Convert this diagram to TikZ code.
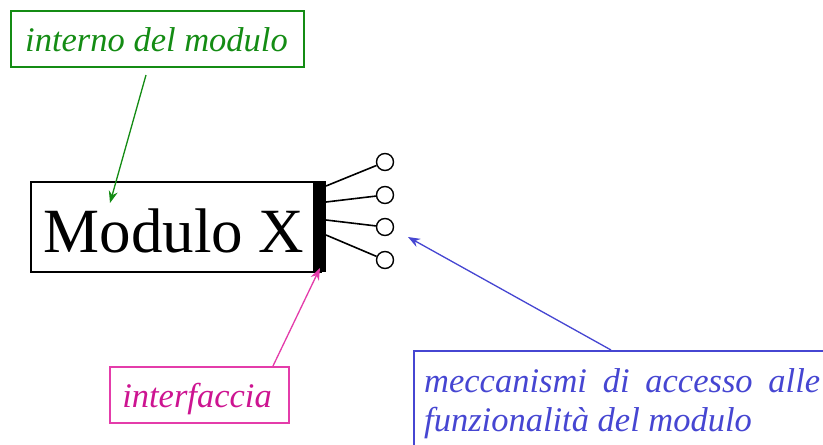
\documentclass[tikz,border=0pt]{standalone}
\usepackage{fontspec}
\setmainfont{Liberation Serif}[ItalicFont={Liberation Serif Italic}]
\usetikzlibrary{arrows.meta}
\definecolor{cgreen}{RGB}{20,140,20}
\definecolor{cpinkline}{RGB}{228,60,170}
\definecolor{cpink}{RGB}{205,20,145}
\definecolor{cblue}{RGB}{70,70,210}
\tikzset{
  lbl/.style={font=\fontsize{34.5}{40}\selectfont\itshape, inner sep=0pt},
  callout/.style={draw, line width=1.6pt, rectangle, inner sep=0pt},
  tip/.style={-{Stealth[length=12pt,width=9pt]}, line width=1.3pt},
  port/.style={draw, circle, line width=1.4pt, minimum size=17pt, inner sep=0pt, fill=white},
  wire/.style={line width=1.6pt},
}
\begin{document}
\begin{tikzpicture}[x=1pt,y=-1pt]
\clip (0,0) rectangle (823,445);
\fill[white] (0,0) rectangle (823,445);
% green callout
\node[callout, draw=cgreen, minimum width=293pt, minimum height=56pt, anchor=north west] (gbox) at (10,10) {};
\node[lbl, text=cgreen, anchor=base] (gtxt) at (156.5,51) {interno del modulo};
% main module
\node[draw, line width=1.6pt, minimum width=290pt, minimum height=90pt, anchor=north west, inner sep=0pt] (mod) at (30,181) {};
\node[inner sep=0pt, anchor=base, font=\fontsize{63}{70}\selectfont] (modt) at (174,252) {Modulo X};
\node[fill=black, minimum width=13pt, minimum height=91pt, anchor=north west, inner sep=0pt] (bar) at (313,181) {};
% ports
\node[port] (c1) at (385,162) {};
\node[port] (c2) at (385,195) {};
\node[port] (c3) at (385,227) {};
\node[port] (c4) at (385,260) {};
\coordinate (p1) at (326,186);
\coordinate (p2) at (326,202);
\coordinate (p3) at (326,220);
\coordinate (p4) at (326,235);
\draw[wire] (p1) -- (c1);
\draw[wire] (p2) -- (c2);
\draw[wire] (p3) -- (c3);
\draw[wire] (p4) -- (c4);
% pink callout
\node[callout, draw=cpinkline, minimum width=179pt, minimum height=56pt, anchor=north west] (pbox) at (109,366) {};
\node[lbl, text=cpink, anchor=base] (ptxt) at (197,407) {interfaccia};
% blue callout
\node[callout, draw=cblue, minimum width=440pt, minimum height=120pt, anchor=north west] (bbox) at (413,350) {};
\node[lbl, text=cblue, anchor=base west] (btxt1) at (424,392) {\makebox[396pt][s]{meccanismi di accesso alle}};
\node[lbl, text=cblue, anchor=base west] (btxt2) at (424,431) {funzionalità del modulo};
% arrows
\coordinate (gs) at (146,75);
\coordinate (ge) at (110,203);
\draw[tip, draw=cgreen, fill=cgreen] (gs) -- (ge);
\coordinate (ps) at (273,366);
\coordinate (pe) at (320,268);
\draw[tip, draw=cpinkline, fill=cpinkline] (ps) -- (pe);
\coordinate (bs) at (611,350);
\coordinate (be) at (408,237);
\draw[tip, draw=cblue, fill=cblue] (bs) -- (be);
\end{tikzpicture}
\end{document}
